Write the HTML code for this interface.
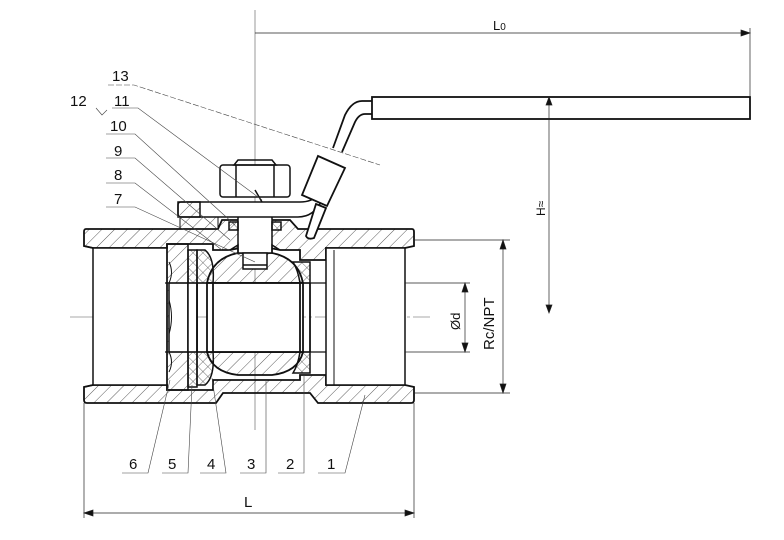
<!DOCTYPE html>
<html><head><meta charset="utf-8"><style>
html,body{margin:0;padding:0;background:#fff;}
svg{display:block;}
text{font-family:"Liberation Sans",Arial,sans-serif;fill:#111;}
</style></head><body>
<svg width="784" height="540" viewBox="0 0 784 540" xmlns="http://www.w3.org/2000/svg">
<defs>
<pattern id="h" width="9" height="9" patternUnits="userSpaceOnUse" patternTransform="rotate(45)">
<line x1="0" y1="0" x2="0" y2="9" stroke="#333" stroke-width="0.8"/>
</pattern>
<pattern id="x" width="7" height="7" patternUnits="userSpaceOnUse" patternTransform="rotate(45)">
<line x1="0" y1="0" x2="0" y2="7" stroke="#333" stroke-width="0.7"/>
<line x1="0" y1="0" x2="7" y2="0" stroke="#333" stroke-width="0.7"/>
</pattern>
</defs>

<!-- centerlines -->
<g stroke="#555" stroke-width="0.6" fill="none">
<line x1="255" y1="10" x2="255" y2="430"/>
<line x1="70" y1="317" x2="430" y2="317" stroke-dasharray="40,3,3,3"/>
</g>

<!-- body walls hatched -->
<g stroke="#111" stroke-width="1.8" fill="url(#h)">
<path d="M86,229 L218,229 L222,220 L290,220 L298,229 L412,229 Q414,229 414,232 L414,246 L405,248 L326,248 L326,260 L300,260 L300,250 L280,250 L270,248 L240,248 L230,250 L213,250 L213,244 L167,244 L167,248 L93,248 L84,246 L84,232 Q84,229 86,229z"/>
<path d="M84,387 L93,385 L167,385 L167,390 L213,390 L213,380 L300,380 L300,375 L326,375 L326,385 L405,385 L414,387 L414,400 Q414,403 411,403 L318,403 L310,393 L223,393 L216,403 L87,403 Q84,403 84,400z"/>
</g>

<!-- bores -->
<g stroke="#111" stroke-width="1.5" fill="#fff">
<rect x="93" y="248" width="74" height="137"/>
<rect x="326" y="248" width="79" height="137"/>
<line x1="334" y1="250" x2="334" y2="385" stroke-width="1"/>
<line x1="84" y1="246" x2="93" y2="248"/>
<line x1="84" y1="387" x2="93" y2="385"/>
</g>

<!-- nut 6, ring 5 -->
<g stroke="#111" stroke-width="1.5">
<rect x="167" y="244" width="21" height="146" fill="url(#h)"/>
<rect x="169" y="283" width="19" height="69" fill="#fff"/>
<path d="M169,262 Q174,272 169,283 M169,300 Q174,317 169,334 M169,352 Q174,362 169,372" fill="none" stroke-width="1"/>
<rect x="188" y="250" width="9" height="137" fill="url(#x)"/>
<rect x="188" y="283" width="9" height="69" fill="#fff"/>
<path d="M197,250 L205,250 Q215,258 213,283 L197,283z" fill="url(#x)"/>
<path d="M197,352 L213,352 Q215,377 205,385 L197,385z" fill="url(#x)"/>
<path d="M293,262 L310,262 L310,283 L300,283 Q298,270 293,262z" fill="url(#x)"/>
<path d="M300,352 L310,352 L310,373 L293,373 Q298,365 300,352z" fill="url(#x)"/>
</g>

<!-- ball -->
<g stroke="#111" stroke-width="1.8">
<path d="M207,283 Q212,258 238,253 L272,253 Q298,258 303,283z" fill="url(#h)"/>
<path d="M207,352 Q212,372 238,375 L272,375 Q298,372 303,352z" fill="url(#h)"/>
<rect x="207" y="283" width="96" height="69" fill="#fff"/>
<line x1="213" y1="283" x2="213" y2="352"/>
<line x1="300" y1="283" x2="300" y2="352"/>
<line x1="310" y1="283" x2="310" y2="352"/>
<line x1="197" y1="283" x2="197" y2="352"/>
<line x1="165" y1="283" x2="326" y2="283" stroke-width="1.2"/>
<line x1="165" y1="352" x2="326" y2="352" stroke-width="1.2"/>
</g>

<!-- stem -->
<g stroke="#111" stroke-width="1.5">
<rect x="238" y="215" width="34" height="38" fill="#fff"/>
<rect x="243" y="253" width="24" height="16" fill="#fff"/>
<line x1="243" y1="265" x2="267" y2="265"/>
<path d="M230,250 L238,245 L238,253 M280,250 L272,245 L272,253" fill="none"/>
<rect x="229" y="222" width="9" height="8" fill="url(#x)"/>
<rect x="272" y="222" width="9" height="8" fill="url(#x)"/>
<path d="M181,202 L300,202 Q312,202 318,195 L322,200 Q314,217 298,217 L181,217 Q178,217 178,214 L178,205 Q178,202 181,202z" fill="#fff"/>
<rect x="178" y="202" width="22" height="15" fill="url(#h)"/>
<rect x="180" y="217" width="38" height="12" fill="url(#h)" stroke-width="1"/>
<rect x="220" y="165" width="70" height="32" rx="3" fill="#fff"/>
<path d="M236,165 L236,197 M274,165 L274,197 M238,160 L272,160 L276,165 L234,165z" fill="none"/>
<line x1="255" y1="190" x2="262" y2="202"/>
</g>

<!-- handle -->
<g stroke="#111" stroke-width="1.8" fill="#fff">
<rect x="372" y="97" width="378" height="22"/>
<path d="M372,101 L362,101 Q352,101 345,115 L333,148 M372,114 L365,114 Q359,114 355,122 L342,152" fill="none"/>
<path d="M318,156 L345,168 L327,206 L302,195z"/>
<path d="M316,204 L326,208 L314,238 Q308,240 306,236z"/>
</g>

<!-- dimensions -->
<g stroke="#222" stroke-width="0.7" fill="none">
<line x1="255" y1="33" x2="750" y2="33"/>
<path d="M750,33 L741,30 L741,36z" fill="#111"/>
<line x1="750" y1="28" x2="750" y2="97"/>
<line x1="549" y1="97" x2="549" y2="313"/>
<path d="M549,313 L546,305 L552,305z M549,97 L546,105 L552,105z" fill="#111"/>
<line x1="414" y1="240" x2="510" y2="240"/>
<line x1="414" y1="393" x2="510" y2="393"/>
<line x1="503" y1="240" x2="503" y2="393"/>
<path d="M503,240 L500,249 L506,249z M503,393 L500,384 L506,384z" fill="#111"/>
<line x1="405" y1="283" x2="470" y2="283"/>
<line x1="405" y1="352" x2="470" y2="352"/>
<line x1="465" y1="283" x2="465" y2="352"/>
<path d="M465,283 L462,292 L468,292z M465,352 L462,343 L468,343z" fill="#111"/>
<line x1="84" y1="403" x2="84" y2="518"/>
<line x1="414" y1="403" x2="414" y2="518"/>
<line x1="84" y1="513" x2="414" y2="513"/>
<path d="M84,513 L93,510 L93,516z M414,513 L405,510 L405,516z" fill="#111"/>
</g>

<!-- leaders -->
<g stroke="#444" stroke-width="0.6" fill="none">
<path d="M108,85 L134,85 L380,165" stroke-dasharray="6,2"/>
<path d="M96,108 L102,115 L107,110"/>
<path d="M112,108 L138,108 L262,200"/>
<path d="M106,134 L135,134 L235,225"/>
<path d="M106,158 L135,158 L230,240"/>
<path d="M106,183 L135,183 L222,250"/>
<path d="M106,207 L135,207 L255,262"/>
<path d="M122,473 L148,473 L170,380"/>
<path d="M162,473 L188,473 L192,385"/>
<path d="M200,473 L226,473 L212,378"/>
<path d="M240,473 L266,473 L266,380"/>
<path d="M278,473 L304,473 L304,375"/>
<path d="M318,473 L345,473 L365,395"/>
</g>

<!-- labels -->
<g font-size="15">
<text x="112" y="81">13</text>
<text x="70" y="106">12</text>
<text x="114" y="106">11</text>
<text x="110" y="131">10</text>
<text x="114" y="156">9</text>
<text x="114" y="180">8</text>
<text x="114" y="204">7</text>
<text x="129" y="469">6</text>
<text x="168" y="469">5</text>
<text x="207" y="469">4</text>
<text x="247" y="469">3</text>
<text x="286" y="469">2</text>
<text x="327" y="469">1</text>
<text x="244" y="507">L</text>
<text x="493" y="30" font-size="13">L<tspan font-size="10">0</tspan></text>
<text transform="translate(545,216) rotate(-90)" font-size="12">H≈</text>
<text transform="translate(460,330) rotate(-90)" font-size="13">Ød</text>
<text transform="translate(494,350) rotate(-90)" font-size="15">Rc/NPT</text>
</g>
</svg>
</body></html>
